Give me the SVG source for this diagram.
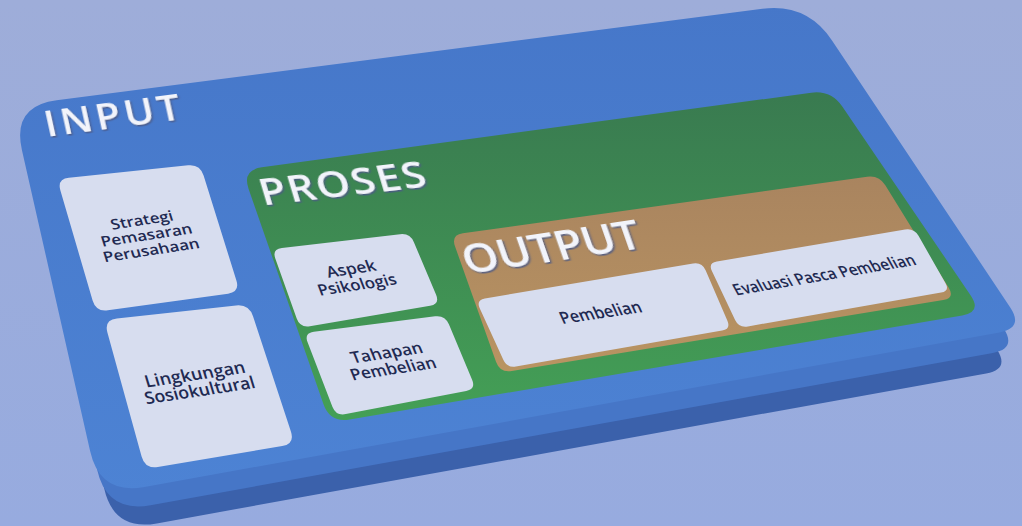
<svg xmlns="http://www.w3.org/2000/svg" width="1022" height="526" viewBox="0 0 1022 526">
  <defs>
    <linearGradient id="bg" x1="0" y1="0" x2="0" y2="1">
      <stop offset="0" stop-color="#9eadd9"/>
      <stop offset="1" stop-color="#97abdf"/>
    </linearGradient>
    <linearGradient id="topFill" gradientUnits="userSpaceOnUse" x1="0" y1="0" x2="0" y2="500">
      <stop offset="0" stop-color="#4677c9"/>
      <stop offset="1" stop-color="#4d83d4"/>
    </linearGradient>
    <linearGradient id="greenFill" gradientUnits="userSpaceOnUse" x1="0" y1="90" x2="0" y2="423">
      <stop offset="0" stop-color="#397a50"/>
      <stop offset="1" stop-color="#44a056"/>
    </linearGradient>
    <linearGradient id="tanFill" gradientUnits="userSpaceOnUse" x1="0" y1="175" x2="0" y2="373">
      <stop offset="0" stop-color="#a9845f"/>
      <stop offset="1" stop-color="#b99462"/>
    </linearGradient>
    <filter id="bevel" x="-10%" y="-30%" width="125%" height="170%">
      <feDropShadow dx="1" dy="1.6" stdDeviation="0.7" flood-color="#4b5a86" flood-opacity="0.9"/>
    </filter>
    <!-- outline of the slab's top face, reused (shrunk toward a point far below) for its thickness -->
    <path id="slabShape" d="M56.6,100.2 L762.4,8.8 Q807,3 832,40.4 L1010.1,307.2 Q1024,328 999.4,332.4 L144.3,487 Q100,495 90.1,451.1 L21.9,149.9 Q12,106 56.6,100.2 Z"/>
  </defs>
  <style>
    .title { font-family: "Open Sans", "Noto Sans", sans-serif; font-weight: 600; fill: #f2f4fb; text-anchor: middle; }
    .label { font-family: "Open Sans", "Noto Sans", sans-serif; font-weight: 600; fill: #1f2a52; text-anchor: middle; }
    .card { fill: #d7ddef; }
  </style>

  <rect width="1022" height="526" fill="url(#bg)"/>

  <!-- INPUT slab with its thickness -->
  <g id="input">
    <use href="#slabShape" transform="matrix(0.97,0,0,0.97,16.8,51)" fill="#3b61ab"/>
    <use href="#slabShape" transform="matrix(0.985,0,0,0.985,8.4,25.5)" fill="#4676c7"/>
    <use href="#slabShape" fill="url(#topFill)"/>
    <text class="title" transform="matrix(1.15,-0.15,0.22,1,115,128)" font-size="35" textLength="118" lengthAdjust="spacing" filter="url(#bevel)">INPUT</text>
  </g>

  <g id="strategi">
    <path class="card" d="M68.9,177.8 L188.1,165.3 Q200,164 203.6,175.5 L236.4,280.5 Q240,292 228.1,293.7 L107.9,310.3 Q96,312 92.6,300.5 L60.4,190.5 Q57,179 68.9,177.8 Z"/>
    <g transform="matrix(1,-0.15,0.31,1,148,240)">
      <text class="label" font-size="14" y="-15" textLength="62" lengthAdjust="spacingAndGlyphs">Strategi</text>
      <text class="label" font-size="14" y="0" textLength="91" lengthAdjust="spacingAndGlyphs">Pemasaran</text>
      <text class="label" font-size="14" y="15" textLength="96" lengthAdjust="spacingAndGlyphs">Perusahaan</text>
    </g>
  </g>

  <g id="lingkungan">
    <path class="card" d="M116.9,318.6 L236.1,305.4 Q249,304 253.1,316.4 L290.9,431.6 Q295,444 282.2,446.1 L157.8,466.9 Q145,469 141.6,456.5 L107.4,332.5 Q104,320 116.9,318.6 Z"/>
    <g transform="matrix(1,-0.15,0.3,1,199,388)">
      <text class="label" font-size="16.5" y="-8" textLength="100" lengthAdjust="spacingAndGlyphs">Lingkungan</text>
      <text class="label" font-size="16.5" y="8" textLength="110" lengthAdjust="spacingAndGlyphs">Sosiokultural</text>
    </g>
  </g>

  <!-- PROSES panel -->
  <g id="proses">
    <path fill="url(#greenFill)" d="M261.8,167.3 L811.2,92.7 Q831,90 842.3,106.6 L970.7,295.4 Q982,312 962.3,315.4 L349.7,419.6 Q330,423 323.4,404.1 L248.6,188.9 Q242,170 261.8,167.3 Z"/>
    <text class="title" transform="matrix(1.15,-0.132,0.3,1,346,196)" font-size="37" textLength="144" lengthAdjust="spacing" filter="url(#bevel)">PROSES</text>
  </g>

  <g id="aspek">
    <path class="card" d="M281.9,247.9 L400.1,234.2 Q410,233 413.9,242.2 L436.1,294.8 Q440,304 430.1,305.7 L309.9,326.3 Q300,328 296.7,318.6 L275.3,258.4 Q272,249 281.9,247.9 Z"/>
    <g transform="matrix(1,-0.15,0.38,1,356,282)">
      <text class="label" font-size="15" y="-8" textLength="49" lengthAdjust="spacingAndGlyphs">Aspek</text>
      <text class="label" font-size="15" y="8" textLength="78" lengthAdjust="spacingAndGlyphs">Psikologis</text>
    </g>
  </g>

  <g id="tahapan">
    <path class="card" d="M313.9,331.7 L435.1,316.3 Q445,315 448.9,324.3 L472.1,379.8 Q476,389 466.2,390.9 L345.8,414.1 Q336,416 332.4,406.7 L307.6,342.3 Q304,333 313.9,331.7 Z"/>
    <g transform="matrix(1,-0.15,0.4,1,392,366)">
      <text class="label" font-size="15.5" y="-8" textLength="71" lengthAdjust="spacingAndGlyphs">Tahapan</text>
      <text class="label" font-size="15.5" y="8" textLength="85" lengthAdjust="spacingAndGlyphs">Pembelian</text>
    </g>
  </g>

  <!-- OUTPUT panel -->
  <g id="output">
    <path fill="url(#tanFill)" d="M462.9,233.3 L867.1,176.7 Q879,175 885.3,185.2 L948.7,287.8 Q955,298 943.2,300 L511.8,371 Q500,373 496,361.7 L455,246.3 Q451,235 462.9,233.3 Z"/>
    <text class="title" transform="matrix(1.15,-0.172,0.35,1,556,261)" font-size="39" textLength="154" lengthAdjust="spacing" filter="url(#bevel)">OUTPUT</text>
  </g>

  <g id="pembelian">
    <path class="card" d="M484.9,298.5 L693.1,263.5 Q702,262 705.6,270.3 L727.4,320.7 Q731,329 722.1,330.5 L515.9,366.5 Q507,368 503.3,359.8 L479.7,308.2 Q476,300 484.9,298.5 Z"/>
    <text class="label" transform="matrix(1,-0.15,0.45,1,603,318)" font-size="16" textLength="81" lengthAdjust="spacingAndGlyphs">Pembelian</text>
  </g>

  <g id="evaluasi">
    <path class="card" d="M716.9,261.5 L905.1,229.5 Q914,228 918.5,235.8 L945.5,283.2 Q950,291 941.1,292.6 L747.9,326.4 Q739,328 735.1,319.9 L711.9,271.1 Q708,263 716.9,261.5 Z"/>
    <text class="label" transform="matrix(1,-0.17,0.55,1,827,280)" font-size="15" textLength="181" lengthAdjust="spacingAndGlyphs">Evaluasi Pasca Pembelian</text>
  </g>
</svg>
